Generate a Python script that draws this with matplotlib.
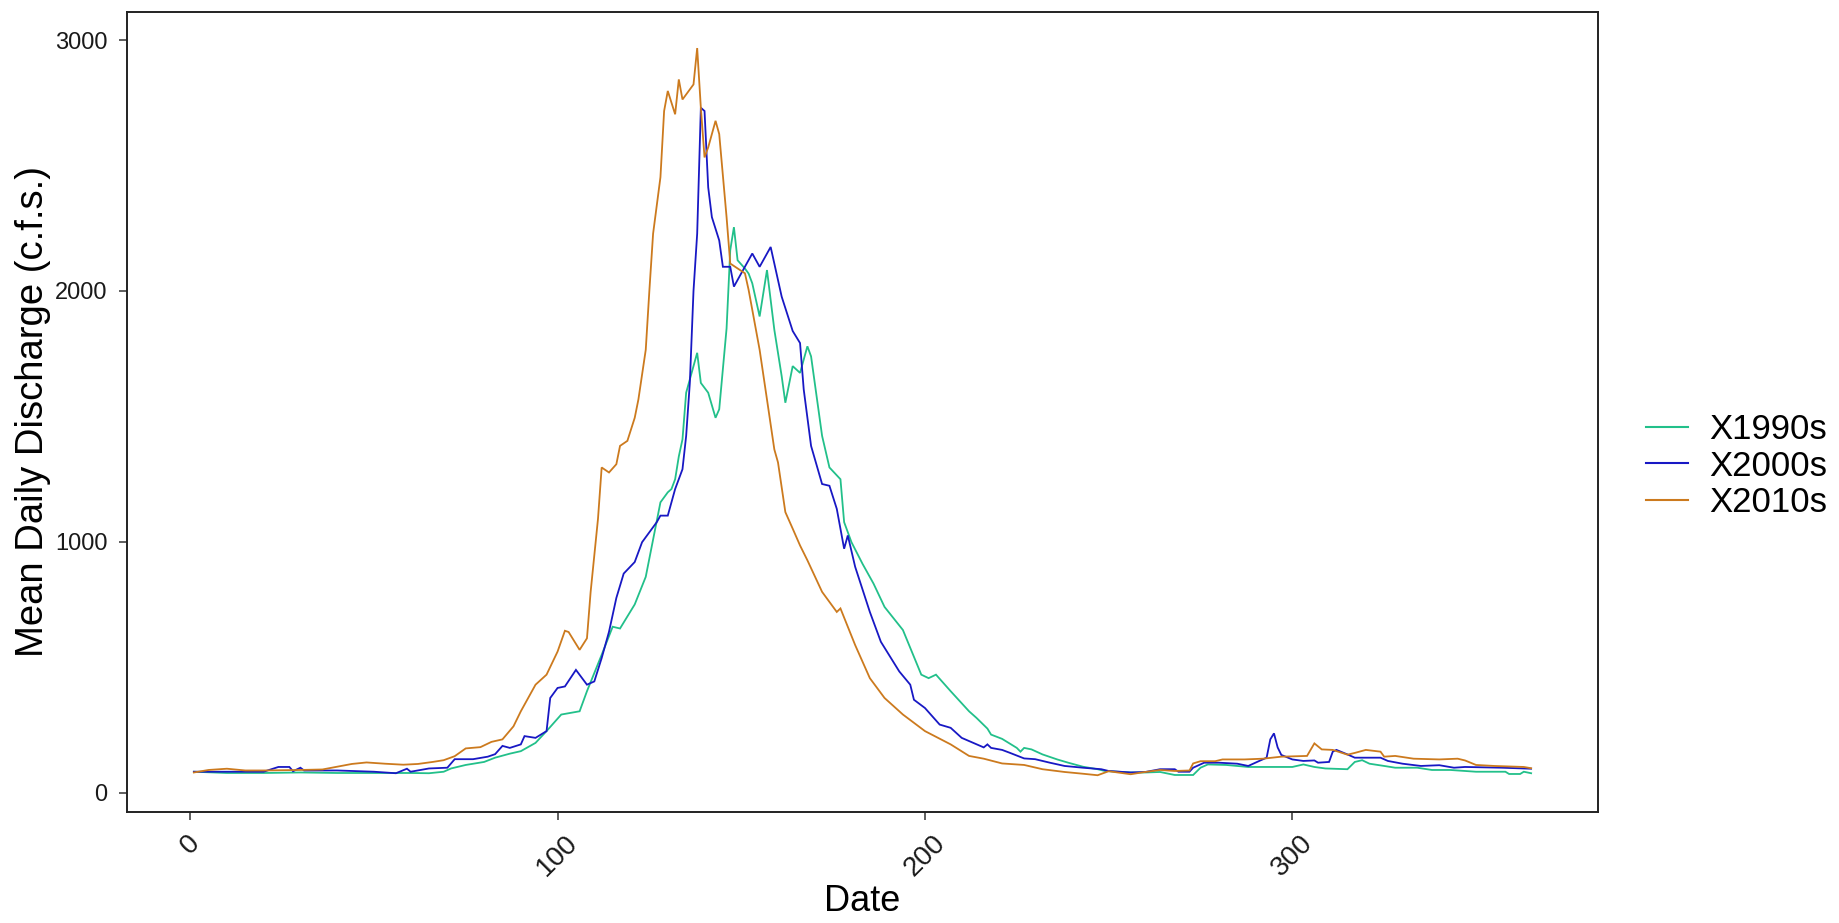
import matplotlib
matplotlib.use("Agg")
import matplotlib.pyplot as plt

# ---- data ----
days_1990 = [1, 10, 20, 30, 40, 50, 60, 65, 69, 71, 75, 80, 83, 87, 90, 94, 97, 101, 106, 108,
             112, 115, 117, 121, 124, 128, 130, 131, 132, 133, 134, 135, 137, 138, 139, 141, 143,
             144, 146, 147, 148, 149, 151, 152, 153, 155, 157, 159, 161, 162, 164, 166, 168, 169,
             172, 174, 177, 178, 180, 183, 186, 189, 194, 199, 201, 203, 207, 212, 214, 217, 218,
             221, 225, 226, 227, 229, 232, 236, 239, 243, 247, 249, 256, 260, 264, 268, 273, 275,
             277, 282, 288, 300, 303, 306, 309, 315, 317, 319, 321, 325, 328, 334, 338, 343, 350,
             358, 359, 362, 363, 365]
q_1990 = [83, 78, 78, 80, 78, 78, 78, 77, 83, 96, 110, 122, 139, 155, 165, 198, 245, 311, 324, 404,
          549, 661, 654, 750, 860, 1157, 1197, 1210, 1249, 1340, 1408, 1594, 1700, 1753, 1633, 1594, 1494,
          1528, 1850, 2162, 2254, 2122, 2089, 2069, 2030, 1898, 2083, 1845, 1660, 1554, 1700, 1673, 1779, 1739,
          1422, 1296, 1249, 1078, 998, 912, 833, 740, 648, 470, 456, 470, 404, 324, 298, 255, 231,
          214, 178, 163, 178, 172, 152, 132, 119, 103, 93, 86, 80, 80, 82, 70, 70, 99,
          112, 110, 102, 102, 112, 102, 96, 93, 122, 129, 115, 106, 99, 99, 90, 90, 83,
          83, 74, 74, 83, 77]

days_2000 = [1, 10, 20, 24, 27, 28, 30, 31, 40, 50, 56, 57, 59, 60, 65, 70, 72, 77, 81, 83, 85, 87,
             90, 91, 94, 97, 98, 100, 102, 105, 108, 110, 112, 114, 116, 118, 121, 123, 127, 128,
             130, 132, 134, 135, 136, 137, 138, 139, 140, 141, 142, 144, 145, 147, 148, 150, 153,
             155, 158, 160, 161, 164, 166, 167, 169, 172, 174, 176, 178, 179, 181, 185, 188, 193,
             196, 197, 200, 204, 207, 210, 216, 217, 218, 221, 223, 227, 230, 234, 238, 243, 248,
             250, 256, 260, 264, 268, 269, 272, 273, 276, 280, 285, 288, 291, 293, 294, 295, 296,
             297, 300, 303, 306, 307, 310, 311, 312, 315, 317, 324, 326, 330, 335, 340, 344, 347,
             357, 365]
q_2000 = [83, 83, 83, 102, 102, 85, 99, 88, 88, 83, 77, 83, 95, 83, 96, 99, 133, 133, 143, 153, 186, 178,
          192, 225, 218, 245, 377, 417, 423, 489, 430, 443, 536, 641, 776, 873, 919, 998, 1078, 1104,
          1104, 1210, 1289, 1422, 1633, 2000, 2228, 2730, 2717, 2413, 2294, 2201, 2096, 2096, 2017, 2070, 2149,
          2096, 2175, 2043, 1977, 1840, 1792, 1607, 1382, 1230, 1223, 1131, 972, 1025, 900, 720, 601, 483,
          430, 370, 337, 271, 258, 218, 180, 192, 178, 170, 159, 136, 133, 119, 106, 99, 93,
          86, 80, 82, 93, 93, 83, 83, 99, 119, 119, 115, 106, 126, 139, 212, 236, 180,
          150, 132, 126, 128, 119, 122, 163, 170, 152, 139, 139, 126, 115, 106, 109, 99, 102,
          99, 95]

days_2010 = [1, 5, 10, 15, 20, 30, 36, 40, 44, 48, 53, 58, 62, 66, 69, 72, 75, 79, 82, 85, 88, 90,
             94, 97, 100, 102, 103, 106, 108, 109, 111, 112, 114, 116, 117, 119, 121, 122, 124, 125,
             126, 128, 129, 130, 132, 133, 134, 137, 138, 139, 140, 141, 143, 144, 146, 147, 151,
             152, 155, 157, 159, 160, 162, 164, 166, 168, 172, 176, 177, 181, 185, 189, 194, 200,
             207, 212, 216, 221, 227, 232, 238, 243, 247, 250, 256, 259, 264, 268, 272, 273, 275,
             279, 281, 287, 292, 297, 304, 306, 308, 311, 315, 317, 320, 324, 325, 328, 333, 340,
             345, 347, 350, 355, 363, 365]
q_2010 = [80, 90, 95, 88, 88, 90, 92, 103, 114, 120, 115, 111, 114, 122, 129, 145, 176, 181, 202, 212, 264, 324,
          430, 470, 562, 645, 640, 569, 615, 800, 1091, 1296, 1276, 1309, 1382, 1402, 1494, 1567, 1765, 2004,
          2228, 2453, 2717, 2797, 2704, 2843, 2763, 2823, 2968, 2730, 2532, 2572, 2678, 2625, 2294, 2109, 2070,
          2004, 1765, 1567, 1368, 1316, 1118, 1052, 985, 926, 800, 720, 734, 588, 456, 377, 311, 245,
          192, 146, 135, 116, 110, 93, 82, 75, 69, 85, 73, 80, 90, 86, 88, 116, 125,
          125, 132, 132, 135, 143, 146, 196, 172, 170, 151, 158, 170, 163, 143, 146, 135, 132,
          135, 128, 110, 106, 102, 97]

series_names = ["X1990s", "X2000s", "X2010s"]
series_colors = ["#22C08A", "#1818C4", "#CC7A1E"]
x_ticks = [0, 100, 200, 300]
y_ticks = [0, 1000, 2000, 3000]
x_title = "Date"
y_title = "Mean Daily Discharge (c.f.s.)"

# ---- figure ----
plt.rcParams["font.family"] = ["Liberation Sans", "DejaVu Sans"]
fig = plt.figure(figsize=(18.39, 9.23), dpi=100)
ax = fig.add_axes([127 / 1839, 1 - 811.6 / 923, (1598 - 127) / 1839, (811.6 - 11.7) / 923])

for d, q, name, col in zip([days_1990, days_2000, days_2010], [q_1990, q_2000, q_2010],
                           series_names, series_colors):
    ax.plot(d, q, color=col, lw=1.3, label=name, solid_joinstyle="miter")

ax.margins(x=0.05, y=0.05)
ax.set_xticks(x_ticks)
ax.set_yticks(y_ticks)
ax.set_xticklabels([str(t) for t in x_ticks], rotation=45, ha="center", va="top")
ax.tick_params(axis="both", length=6, width=1.1, color="#333333", labelcolor="#1a1a1a")
ax.tick_params(axis="y", labelsize=17, pad=8)
ax.tick_params(axis="x", labelsize=20, pad=7)
for s in ax.spines.values():
    s.set_linewidth(1.4)
    s.set_color("#222222")
ax.set_xlabel(x_title, fontsize=26, labelpad=2, color="black")
ax.set_ylabel(y_title, fontsize=27.5, labelpad=3, color="black")

leg = fig.legend(loc="center left", bbox_to_anchor=(1615 / 1839, 0.495), frameon=False,
                 fontsize=25, handlelength=1.2, handletextpad=0.6, labelspacing=0.1)
for h in leg.get_lines():
    h.set_linewidth(1.5)

fig.savefig("out.png", dpi=100)
